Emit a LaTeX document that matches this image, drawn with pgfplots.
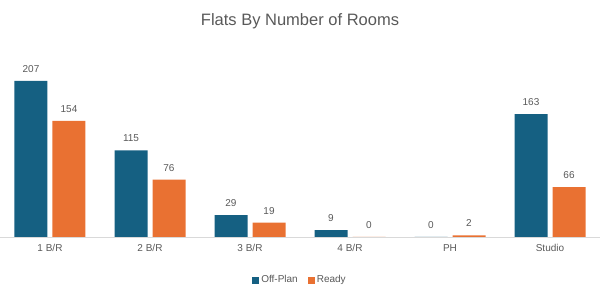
\documentclass[border=0pt]{standalone}
\usepackage{pgfplots}
\pgfplotsset{compat=1.18}
\usepackage{fontspec}
\setmainfont{Liberation Sans}
\definecolor{offplan}{HTML}{156082}
\definecolor{ready}{HTML}{E97132}
\definecolor{txt}{HTML}{595959}
\begin{document}
\begin{tikzpicture}[x=1pt,y=1pt]
\useasboundingbox (0,-60) rectangle (600,237);
\begin{axis}[
  at={(0,0)}, anchor=south west,
  scale only axis,
  width=600pt, height=170pt,
  xmin=-0.5, xmax=5.5, ymin=0, ymax=225.5,
  ybar, bar width=33pt,
  axis y line=none,
  axis x line*=bottom,
  x axis line style={draw=black!15, line width=0.8pt, -},
  xtick={0,1,2,3,4,5},
  xticklabels={1 B/R,2 B/R,3 B/R,4 B/R,PH,Studio},
  major tick length=0pt,
  /pgf/number format/assume math mode=true,
  xticklabel style={font=\fontsize{10}{12}\selectfont, text=txt, yshift=-4pt},
  nodes near coords,
  every node near coord/.append style={font=\fontsize{10}{12}\selectfont, text=txt, anchor=south, yshift=5pt},
  legend style={at={(0.5,-43pt)}, anchor=center, draw=none, legend columns=2,
    font=\fontsize{10}{12}\selectfont, text=txt,
    /tikz/every even column/.append style={column sep=8pt}},
  legend image code/.code={\fill[#1] (0pt,-3.5pt) rectangle (7pt,3.5pt);},
  clip=false,
]
\addplot[fill=offplan, draw=none, bar shift=-19pt] coordinates {(0,207) (1,115) (2,29) (3,9) (4,0) (5,163)};
\addplot[fill=ready, draw=none, bar shift=19pt] coordinates {(0,154) (1,76) (2,19) (3,0) (4,2) (5,66)};
\legend{Off-Plan,Ready}
\end{axis}
\node[text=txt, font=\fontsize{16.5}{18}\selectfont] at (300,216) {Flats By Number of Rooms};
\end{tikzpicture}
\end{document}
